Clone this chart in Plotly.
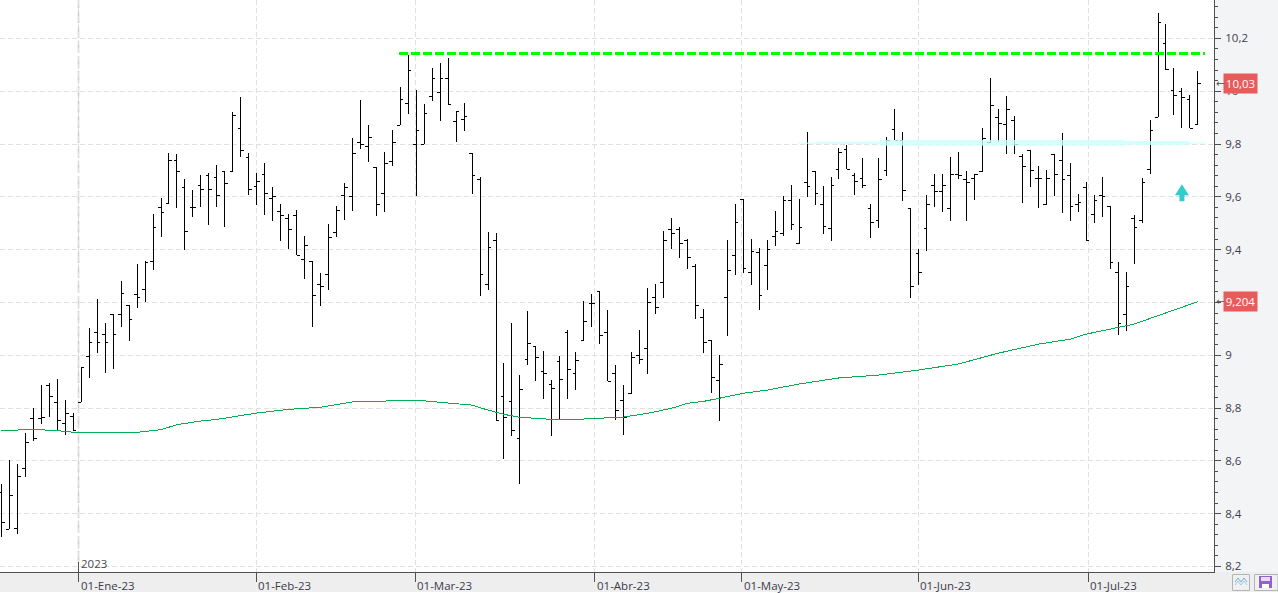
import plotly.graph_objects as go

# ---- OHLC data, one entry per trading session ----
opens = [8.481,8.341,8.344,8.572,8.761,8.761,8.886,8.822,8.742,8.769,8.822,8.996,9.087,9.079,9.155,9.155,9.189,9.231,9.250,9.356,
9.560,9.575,9.738,9.636,9.560,9.644,9.682,9.674,9.697,9.697,9.860,9.750,9.640,9.685,9.594,9.545,9.519,9.530,9.363,9.356,
9.269,9.306,9.466,9.606,9.602,9.806,9.791,9.712,9.613,9.735,9.871,9.954,9.799,9.799,9.981,9.996,10.049,9.886,9.894,9.765,
9.666,9.269,9.435,8.844,8.825,8.685,8.985,9.034,8.939,8.890,8.977,9.087,8.931,9.056,9.197,9.242,9.087,8.931,8.829,8.856,
9.000,9.026,9.219,9.276,9.477,9.477,9.435,9.337,9.144,9.056,8.905,9.219,9.378,9.591,9.314,9.390,9.341,9.450,9.462,9.587,
9.422,9.655,9.697,9.572,9.481,9.704,9.780,9.682,9.670,9.557,9.511,9.700,9.856,9.814,9.557,9.386,9.481,9.644,9.621,9.557,
9.685,9.666,9.670,9.697,9.806,9.901,9.875,9.890,9.753,9.776,9.670,9.572,9.761,9.738,9.682,9.572,9.636,9.534,9.604,9.564,
9.314,9.155,9.519,9.511,9.704,9.901,10.181,10.003,10.000,9.969,9.875]
highs = [8.512,8.603,8.588,8.704,8.800,8.886,8.894,8.909,8.829,8.781,8.954,9.102,9.212,9.121,9.155,9.280,9.189,9.345,9.356,9.534,
9.594,9.765,9.761,9.666,9.625,9.682,9.689,9.719,9.697,9.920,9.977,9.765,9.689,9.727,9.636,9.572,9.534,9.549,9.450,9.356,
9.310,9.496,9.564,9.651,9.822,9.966,9.871,9.712,9.769,9.852,10.015,10.136,10.003,9.950,10.087,10.106,10.125,9.924,9.954,9.765,
9.674,9.466,9.462,8.969,9.121,8.924,9.166,9.034,9.015,8.905,8.996,9.094,9.011,9.204,9.231,9.242,9.170,8.962,8.886,9.011,
9.094,9.254,9.269,9.469,9.519,9.485,9.439,9.344,9.174,9.056,9.000,9.435,9.572,9.591,9.439,9.405,9.435,9.545,9.602,9.644,
9.591,9.844,9.697,9.640,9.674,9.784,9.795,9.689,9.746,9.572,9.746,9.825,9.932,9.844,9.557,9.401,9.606,9.685,9.685,9.750,
9.769,9.697,9.685,9.860,10.049,9.932,9.981,9.905,9.761,9.776,9.716,9.700,9.761,9.841,9.727,9.610,9.655,9.606,9.674,9.564,
9.352,9.314,9.530,9.670,9.890,10.295,10.254,10.087,10.011,9.985,10.075]
lows = [8.310,8.341,8.324,8.540,8.674,8.741,8.767,8.717,8.699,8.714,8.822,8.915,9.010,8.934,8.949,9.108,9.055,9.180,9.203,9.324,
9.449,9.574,9.559,9.400,9.525,9.563,9.494,9.563,9.487,9.697,9.752,9.608,9.570,9.532,9.510,9.434,9.403,9.378,9.290,9.108,
9.188,9.248,9.449,9.513,9.547,9.782,9.733,9.528,9.544,9.718,9.871,9.915,9.604,9.799,9.964,9.888,9.950,9.809,9.850,9.612,
9.225,9.248,8.752,8.607,8.695,8.513,8.964,8.903,8.834,8.695,8.757,8.834,8.868,9.056,9.108,9.044,8.901,8.754,8.699,8.856,
8.966,8.929,9.157,9.218,9.403,9.369,9.328,9.138,9.010,8.858,8.752,9.074,9.305,9.313,9.267,9.171,9.247,9.415,9.453,9.475,
9.422,9.600,9.570,9.460,9.434,9.669,9.704,9.608,9.635,9.445,9.483,9.680,9.814,9.585,9.218,9.267,9.394,9.563,9.544,9.510,
9.666,9.510,9.589,9.697,9.806,9.809,9.761,9.763,9.578,9.638,9.559,9.570,9.604,9.540,9.510,9.544,9.435,9.502,9.525,9.325,
9.078,9.093,9.344,9.500,9.685,9.901,10.079,9.909,9.860,9.860,9.875]
closes = [8.367,8.469,8.541,8.670,8.685,8.765,8.844,8.754,8.780,8.714,8.952,9.049,9.049,9.049,9.079,9.234,9.136,9.219,9.352,9.485,
9.541,9.738,9.697,9.469,9.560,9.628,9.628,9.606,9.651,9.909,9.775,9.628,9.659,9.613,9.602,9.530,9.477,9.378,9.416,9.227,
9.261,9.447,9.549,9.636,9.765,9.799,9.825,9.572,9.727,9.806,9.969,10.079,9.852,9.916,10.049,10.049,9.950,9.924,9.905,9.682,
9.306,9.409,8.752,8.765,8.716,8.871,9.045,8.992,8.931,8.875,8.909,8.947,8.981,9.128,9.197,9.075,8.901,8.791,8.765,8.992,
8.985,9.200,9.182,9.435,9.462,9.424,9.371,9.189,9.049,8.916,8.966,9.322,9.503,9.328,9.394,9.227,9.401,9.469,9.587,9.496,
9.485,9.640,9.613,9.488,9.644,9.769,9.704,9.659,9.644,9.503,9.666,9.814,9.814,9.625,9.260,9.314,9.572,9.621,9.644,9.685,
9.682,9.655,9.685,9.822,9.947,9.878,9.932,9.799,9.716,9.700,9.670,9.670,9.685,9.666,9.564,9.579,9.435,9.587,9.602,9.352,
9.121,9.261,9.485,9.655,9.852,10.261,10.083,9.985,9.977,9.860,10.030]

# ---- moving average ----
ma_x = [0,4,7,8,10,17,20,22,25,27,32,36,40,44,52,55,59,60,62,63,65,67,69,72,75,78,81,84,86,88,90,93,96,100,105,110,115,120,125,130,134,136,142,146,150]
ma_y = [8.7155,8.718,8.7155,8.710,8.708,8.708,8.718,8.737,8.751,8.757,8.781,8.795,8.803,8.823,8.830,8.823,8.811,8.801,8.786,8.776,8.765,8.762,8.757,8.757,8.762,8.766,8.780,8.799,8.818,8.825,8.837,8.856,8.868,8.891,8.914,8.925,8.944,8.967,9.008,9.042,9.061,9.080,9.118,9.161,9.203]

# ---- resistance line and support band ----
resistance_x = [49.84, 150.9]
resistance_y = [10.144, 10.144]
band_x = [99.9, 102.0, 110.1, 140.7, 149.0, 151.0]
band_top = [9.806, 9.810, 9.815, 9.811, 9.806]
band_bottom = [9.801, 9.799, 9.793, 9.796, 9.801]

# ---- axes ----
y_ticks = [8.2,8.4,8.6,8.8,9.0,9.2,9.4,9.6,9.8,10.0,10.2]
y_labels = ["8,2","8,4","8,6","8,8","9","9,2","9,4","9,6","9,8","10","10,2"]
x_ticks = [9.654,31.97,51.9,74.35,92.78,114.97,136.28]
x_labels = ["01-Ene-23","01-Feb-23","01-Mar-23","01-Abr-23","01-May-23","01-Jun-23","01-Jul-23"]
year_label = "2023"
last_labels = [(10.03,"10,03"),(9.204,"9,204")]
signal_x, signal_y = 148, 9.625

W, H = 1278, 593
PW, PH = 1214, 572
px = lambda v: v / PW
py = lambda v: (PH - v) / PH
TXT = "#3c3c4c"
FONT = "Open Sans"
FS = 11.5

xs = list(range(len(opens)))
fig = go.Figure()

# support band as stepped polygon
poly_x, poly_y = [], []
for i, t in enumerate(band_top):
    poly_x += [band_x[i], band_x[i+1]]; poly_y += [t, t]
for i in range(len(band_bottom)-1, -1, -1):
    poly_x += [band_x[i+1], band_x[i]]; poly_y += [band_bottom[i], band_bottom[i]]
fig.add_trace(go.Scatter(x=poly_x, y=poly_y, mode="lines", fill="toself",
                         fillcolor="rgba(204,255,255,0.8)", line=dict(width=0), hoverinfo="skip"))
fig.add_trace(go.Ohlc(x=xs, open=opens, high=highs, low=lows, close=closes, tickwidth=0.4,
                      increasing=dict(line=dict(color="black", width=1)),
                      decreasing=dict(line=dict(color="black", width=1))))
fig.add_trace(go.Scatter(x=ma_x, y=ma_y, mode="lines", line=dict(color="#00b050", width=1)))
fig.add_trace(go.Scatter(x=resistance_x, y=resistance_y, mode="lines",
                         line=dict(color="#00ff00", width=3, dash="9px,3px")))

shapes = [
    # bottom strip and bottom white row
    dict(type="rect", xref="paper", yref="paper", x0=0, x1=px(W), y0=py(592), y1=py(572),
         fillcolor="#eeeeee", line_width=0, layer="below"),
    dict(type="rect", xref="paper", yref="paper", x0=0, x1=px(W), y0=py(593), y1=py(592),
         fillcolor="#ffffff", line_width=0, layer="below"),
    # year separator
    dict(type="line", xref="x", yref="paper", x0=x_ticks[0], x1=x_ticks[0], y0=py(563), y1=1,
         line=dict(color="#cccccc", width=1.5, dash="12px,3px"), layer="below"),
    dict(type="line", xref="x", yref="paper", x0=x_ticks[0], x1=x_ticks[0], y0=py(572), y1=py(562),
         line=dict(color="#505050", width=1)),
    # signal arrow
    dict(type="path", xref="x", yref="y", xsizemode="pixel", ysizemode="pixel",
         xanchor=signal_x, yanchor=signal_y,
         path="M 0 6 L 7 -5 L 2.5 -5 L 2.5 -11 L -2.5 -11 L -2.5 -5 L -7 -5 Z",
         fillcolor="#33cccc", line_width=0),
    # buttons
    dict(type="rect", xref="paper", yref="paper", x0=px(1232.5), x1=px(1249.5), y0=py(590.5), y1=py(574.5),
         fillcolor="#f0f0f0", line=dict(color="#b4b4b4", width=1)),
    dict(type="rect", xref="paper", yref="paper", x0=px(1254.5), x1=px(1278), y0=py(590.5), y1=py(574.5),
         fillcolor="#f0f0f0", line=dict(color="#b4b4b4", width=1)),
    dict(type="rect", xref="paper", yref="paper", x0=px(1259), x1=px(1272), y0=py(588), y1=py(576),
         fillcolor="#9262c8", line_width=0),
    dict(type="rect", xref="paper", yref="paper", x0=px(1261), x1=px(1270), y0=py(581), y1=py(577),
         fillcolor="#e8dcf5", line_width=0),
    dict(type="rect", xref="paper", yref="paper", x0=px(1262), x1=px(1269), y0=py(588), y1=py(584),
         fillcolor="#ffffff", line_width=0),
]
for offs, col in ((0, "#6fb2e2"), (3, "#9ccdec")):
    pts = [(1235, 582+offs), (1238, 578+offs), (1241, 582+offs), (1244, 578+offs), (1247, 582+offs)]
    shapes.append(dict(type="path", xref="paper", yref="paper",
                       path="M " + " L ".join(f"{px(a):.5f} {py(b):.5f}" for a, b in pts),
                       line=dict(color=col, width=1)))

annos = []
for xv, lab in zip(x_ticks, x_labels):
    annos.append(dict(x=xv, y=py(585), xref="x", yref="paper", text=lab, showarrow=False,
                      xanchor="left", yanchor="middle", xshift=0,
                      font=dict(family=FONT, size=FS, color=TXT)))
annos.append(dict(x=x_ticks[0], y=py(563.5), xref="x", yref="paper", text=year_label, showarrow=False,
                  xanchor="left", yanchor="middle", font=dict(family=FONT, size=FS, color="#4a4a4a")))
for v, lab in last_labels:
    annos.append(dict(x=px(1223), y=v, xref="paper", yref="y", text=lab, showarrow=False,
                      xanchor="left", yanchor="middle", width=33, height=19, borderpad=0, align="center",
                      bgcolor="#e85b5b", font=dict(family=FONT, size=FS, color="#ffffff")))
    annos.append(dict(x=px(1215), y=v, xref="paper", yref="y", text="←", showarrow=False,
                      xanchor="left", yanchor="middle", borderpad=0,
                      font=dict(family="DejaVu Sans", size=10, color="#505050")))

fig.update_layout(
    width=W, height=H, showlegend=False,
    margin=dict(l=0, r=W-PW, t=0, b=H-PH, pad=0),
    paper_bgcolor="#f3f4f6", plot_bgcolor="#ffffff",
    shapes=shapes, annotations=annos,
    xaxis=dict(range=[-0.188, 152.02], rangeslider=dict(visible=False), tickmode="array", tickvals=x_ticks,
               ticktext=[""]*len(x_ticks), ticks="outside", ticklen=9, tickcolor="#505050", tickwidth=1,
               showline=True, linecolor="#505050", linewidth=1, zeroline=False,
               showgrid=True, gridcolor="#e0e0e0", griddash="5px,3px", gridwidth=1),
    yaxis=dict(range=[8.179, 10.3455], side="right", tickmode="array", tickvals=y_ticks, ticktext=y_labels,
               ticks="outside", ticklen=6, tickcolor="#505050", tickwidth=1,
               tickfont=dict(family=FONT, size=FS, color=TXT), ticklabelstandoff=2,
               showline=True, linecolor="#505050", linewidth=1, zeroline=False,
               showgrid=True, gridcolor="#e0e0e0", griddash="5px,3px", gridwidth=1,
               minor=dict(tickmode="linear", tick0=8.2, dtick=0.04, ticks="outside", ticklen=3,
                          tickcolor="#505050", tickwidth=1, showgrid=False)),
)
post = """
var s=document.createElement('style');
s.textContent='html,body{margin:0;padding:0;overflow:hidden}.ohlc path,.scatterlayer .js-line{shape-rendering:crispEdges}';
document.head.appendChild(s);
"""
fig.write_html("out.html", config=dict(displayModeBar=False), post_script=post)
